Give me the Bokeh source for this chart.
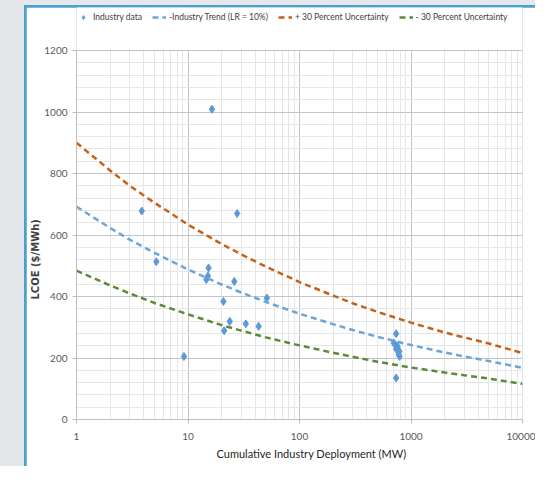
from bokeh.plotting import figure
from bokeh.layouts import column
from bokeh.models import (ColumnDataSource, FixedTicker, NumeralTickFormatter,
                          Legend, LegendItem, Range1d, Title, BoxAnnotation)
from bokeh.embed import file_html
from bokeh.resources import INLINE

# ---- data ----
data_x = [3.85, 5.2, 9.2, 14.6, 15.1, 15.3, 16.4, 20.8, 21.1, 23.7, 26, 27.6, 33, 43, 51,
          736, 700, 720, 758, 736, 787, 776, 790, 736]
data_y = [678, 513, 205, 455, 467, 493, 1009, 384, 289, 319, 449, 670, 311, 303, 395,
          279, 249, 244, 238, 229, 222, 211, 205, 135]

curve_x = [1, 2, 3, 5, 10, 20, 30, 50, 100, 200, 300, 500, 1000, 2000, 3000, 5000, 10000]
trend_y = [692, 623, 585, 542, 488, 439, 413, 382, 344, 310, 291, 269, 242, 218, 205, 190, 168]
upper_y = [900, 810, 760, 705, 634, 571, 537, 497, 447, 403, 378, 350, 315, 283, 267, 247, 216]
lower_y = [484, 436, 410, 379, 342, 307, 289, 267, 241, 217, 204, 188, 169, 153, 144, 133, 116]

x_ticks = [1, 10, 100, 1000, 10000]
y_ticks = [0, 200, 400, 600, 800, 1000, 1200]
y_max = 1200

FONT = "Lato"
GRAY_BG = "#e4e8ea"
BLUE = "#4aa0cf"

# canvas placed at picture offset (26, 7) by the layout margins below
OX, OY = 26, 7
W, H = 535 - OX, 466 - OY
FL, FR, FB = 76 - OX, 522 - OX, 419 - OY
TOP_PX = 50 - OY                       # pixel row of y = 1200 inside the canvas
y_top = y_max + TOP_PX * y_max / (FB - TOP_PX)   # frame reaches the canvas top (legend room)

p = figure(width=W, height=H, x_axis_type="log",
           x_range=Range1d(1, 10000), y_range=Range1d(0, y_top),
           output_backend="svg", toolbar_location=None,
           min_border_left=FL, min_border_right=W - FR,
           min_border_top=0, min_border_bottom=H - FB,
           margin=(2, 0, 0, 2))

p.background_fill_color = "white"
p.border_fill_color = "white"
p.outline_line_color = None

minor_x = [m * 10 ** d for d in range(4) for m in range(2, 10)]
minor_y = [v for v in range(0, y_max + 1, 40) if v % 200 != 0]

p.xaxis.ticker = FixedTicker(ticks=x_ticks, minor_ticks=minor_x)
p.yaxis.ticker = FixedTicker(ticks=y_ticks, minor_ticks=minor_y)
p.xaxis.formatter = NumeralTickFormatter(format="0")
p.yaxis.bounds = (0, y_max)

for g in (p.xgrid, p.ygrid):
    g.grid_line_color = "#c4c4c4"
    g.minor_grid_line_color = "#e6e6e6"

# white band above the 1200 line hides the grid there (legend area)
p.add_layout(BoxAnnotation(bottom=y_max * 1.002, fill_color="white", fill_alpha=1.0,
                           line_color=None))

for ax in (p.xaxis, p.yaxis):
    ax.axis_line_color = "#bfbfbf"
    ax.major_tick_line_color = "#bfbfbf"
    ax.major_tick_in = 0
    ax.major_tick_out = 4
    ax.minor_tick_line_color = None
    ax.major_label_text_font = FONT
    ax.major_label_text_font_size = "10px"
    ax.major_label_text_color = "#595959"

p.yaxis.major_label_standoff = 5
p.xaxis.major_label_standoff = 9

# axis titles as side-panel titles (so that they can be offset)
p.add_layout(Title(text="LCOE ($/MWh)", align="left", offset=120, standoff=1,
                   text_font="DejaVu Sans", text_font_style="bold",
                   text_font_size="10px", text_color="#404040"), "left")
p.add_layout(Title(text="Cumulative Industry Deployment (MW)", align="left", offset=140,
                   standoff=5, text_font=FONT, text_font_style="normal",
                   text_font_size="11px", text_color="#262626"), "below")

src = ColumnDataSource(dict(x=curve_x, t=trend_y, u=upper_y, l=lower_y))

r_data = p.scatter(data_x, data_y, marker="diamond", size=8, color="#5b9bd5")
r_trend = p.line("x", "t", source=src, line_color="#6aa6da", line_width=2.5, line_dash="6 4")
r_up = p.line("x", "u", source=src, line_color="#c4621c", line_width=2.5, line_dash="6 4")
r_lo = p.line("x", "l", source=src, line_color="#5b8a3a", line_width=2.5, line_dash="6 4")

legend = Legend(items=[
    LegendItem(label="Industry data", renderers=[r_data]),
    LegendItem(label="-Industry Trend (LR = 10%)", renderers=[r_trend]),
    LegendItem(label="+ 30 Percent Uncertainty", renderers=[r_up]),
    LegendItem(label="- 30 Percent Uncertainty", renderers=[r_lo]),
], orientation="horizontal", location=(0, FB - 15))
legend.label_text_font = FONT
legend.label_text_font_size = "8.5px"
legend.label_text_color = "#404040"
legend.glyph_width = 14
legend.glyph_height = 10
legend.label_standoff = 3
legend.spacing = 10
legend.padding = 0
legend.margin = 0
legend.border_line_color = None
legend.background_fill_alpha = 0
legend.label_height = 10
p.add_layout(legend, "center")

inner = column(p, margin=(5, 0, 0, 24), styles={"background-color": BLUE})
outer = column(inner, margin=0, styles={"background-color": GRAY_BG})

open("out.html", "w").write(file_html(outer, INLINE))
